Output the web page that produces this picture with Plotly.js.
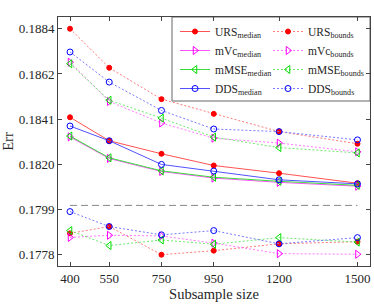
<!DOCTYPE html>
<html>
<head>
<meta charset="utf-8">
<script src="https://cdn.plot.ly/plotly-3.0.1.min.js"></script>
<style>html,body{margin:0;padding:0;background:#fff;}#chart{width:374px;height:306px;}</style>
</head>
<body>
<div id="chart"></div>
<script>
// ---- data ----
const subsampleSizes = [400, 550, 750, 950, 1200, 1500];

const ursMedian  = [0.18421, 0.18311, 0.18250, 0.18195, 0.18159, 0.18112];
const ursUpper   = [0.18836, 0.18653, 0.18506, 0.18437, 0.18354, 0.18297];
const ursLower   = [0.17877, 0.17909, 0.17777, 0.17796, 0.17828, 0.17838];

const mvcMedian  = [0.18329, 0.18228, 0.18167, 0.18136, 0.18116, 0.18098];
const mvcUpper   = [0.18679, 0.18495, 0.18394, 0.18323, 0.18300, 0.18259];
const mvcLower   = [0.17858, 0.17868, 0.17865, 0.17831, 0.17782, 0.17779];

const mmseMedian = [0.18333, 0.18231, 0.18170, 0.18140, 0.18121, 0.18102];
const mmseUpper  = [0.18672, 0.18501, 0.18417, 0.18328, 0.18279, 0.18254];
const mmseLower  = [0.17890, 0.17820, 0.17846, 0.17826, 0.17857, 0.17836];

const ddsMedian  = [0.18380, 0.18311, 0.18200, 0.18169, 0.18128, 0.18109];
const ddsUpper   = [0.18727, 0.18586, 0.18453, 0.18366, 0.18354, 0.18315];
const ddsLower   = [0.17979, 0.17909, 0.17870, 0.17890, 0.17828, 0.17857];

const referenceX = [400, 1500];
const referenceY = [0.18008, 0.18008];

const xTickVals = [400, 550, 750, 950, 1200, 1500];
const yTickVals = [0.17776, 0.17988, 0.18200, 0.18412, 0.18624, 0.18836];
const yTickText = ['0.1778', '0.1799', '0.1820', '0.1841', '0.1862', '0.1884'];

const methodNames = ['URS', 'mVc', 'mMSE', 'DDS'];

// ---- styles ----
const serif = 'Liberation Serif, Times New Roman, serif';
const styles = {
  URS:  {color: '#ff0000', line: '#ff5252', bline: '#ff7a7a', symbol: 'circle',              size: 5},
  mVc:  {color: '#ff00ff', line: '#ff52ff', bline: '#ff7aff', symbol: 'triangle-right-open', size: 7},
  mMSE: {color: '#00dd00', line: '#3ddc3d', bline: '#6ee86e', symbol: 'triangle-left-open',  size: 7},
  DDS:  {color: '#0000ff', line: '#5252ff', bline: '#7a7aff', symbol: 'circle-open',         size: 6}
};
const series = {
  URS:  {median: ursMedian,  upper: ursUpper,  lower: ursLower},
  mVc:  {median: mvcMedian,  upper: mvcUpper,  lower: mvcLower},
  mMSE: {median: mmseMedian, upper: mmseUpper, lower: mmseLower},
  DDS:  {median: ddsMedian,  upper: ddsUpper,  lower: ddsLower}
};

const traces = [];
traces.push({
  x: referenceX, y: referenceY, mode: 'lines', showlegend: false, hoverinfo: 'skip',
  line: {color: '#888888', width: 1, dash: '7px,4px'}
});
methodNames.forEach(name => {
  const s = styles[name];
  const mk = {symbol: s.symbol, size: s.size, color: s.color, line: {color: s.color, width: 1}};
  traces.push({
    x: subsampleSizes, y: series[name].median, mode: 'lines+markers',
    name: name + '<sub>median</sub>', legend: 'legend',
    line: {color: s.line, width: 1}, marker: mk
  });
});
methodNames.forEach(name => {
  const s = styles[name];
  const mk = {symbol: s.symbol, size: s.size, color: s.color, line: {color: s.color, width: 1}};
  traces.push({
    x: subsampleSizes, y: series[name].upper, mode: 'lines+markers',
    name: name + '<sub>bounds</sub>', legend: 'legend2',
    line: {color: s.bline, width: 1, dash: '2px,2px'}, marker: mk
  });
});
methodNames.forEach(name => {
  const s = styles[name];
  const mk = {symbol: s.symbol, size: s.size, color: s.color, line: {color: s.color, width: 1}};
  traces.push({
    x: subsampleSizes, y: series[name].lower, mode: 'lines+markers',
    name: name + '<sub>bounds</sub>', legend: 'legend2', showlegend: false,
    line: {color: s.bline, width: 1, dash: '2px,2px'}, marker: mk
  });
});

const plotL = 58, plotR = 4, plotT = 17, plotB = 40;
const plotW = 374 - plotL - plotR;
const plotH = 306 - plotT - plotB;

const layout = {
  width: 374, height: 306,
  margin: {l: plotL, r: plotR, t: plotT, b: plotB},
  paper_bgcolor: '#ffffff', plot_bgcolor: '#ffffff',
  font: {family: serif, size: 13, color: '#262626'},
  showlegend: true,
  xaxis: {
    range: [354, 1548], tickvals: xTickVals, ticks: 'inside', ticklen: 4, tickcolor: '#444',
    showline: true, linecolor: '#444', linewidth: 1, mirror: 'ticks', showgrid: false, zeroline: false,
    tickfont: {family: serif, size: 13, color: '#262626'},
    title: {text: 'Subsample size', font: {family: serif, size: 14.5, color: '#262626'}, standoff: 4}
  },
  yaxis: {
    range: [0.17724, 0.18891], tickvals: yTickVals, ticktext: yTickText, ticks: 'inside', ticklen: 4, tickcolor: '#444',
    showline: true, linecolor: '#444', linewidth: 1, mirror: 'ticks', showgrid: false, zeroline: false,
    tickfont: {family: serif, size: 13, color: '#262626'},
    title: {text: 'Err', font: {family: serif, size: 14.5, color: '#262626'}, standoff: 2}
  },
  legend: {
    x: (175 - plotL) / plotW, y: 1, xanchor: 'left', yanchor: 'top',
    bgcolor: 'rgba(0,0,0,0)', borderwidth: 0, tracegroupgap: 0,
    font: {family: serif, size: 11.5, color: '#262626'}
  },
  legend2: {
    x: (268 - plotL) / plotW, y: 1, xanchor: 'left', yanchor: 'top',
    bgcolor: 'rgba(0,0,0,0)', borderwidth: 0, tracegroupgap: 0,
    font: {family: serif, size: 11.5, color: '#262626'}
  },
  shapes: [{
    type: 'rect', xref: 'paper', yref: 'paper', layer: 'below',
    x0: (172 - plotL) / plotW, x1: 1, y0: 1 - 84 / plotH, y1: 1,
    line: {color: '#666', width: 1}, fillcolor: '#ffffff'
  }]
};

Plotly.newPlot('chart', traces, layout, {displayModeBar: false, staticPlot: true});
</script>
</body>
</html>
